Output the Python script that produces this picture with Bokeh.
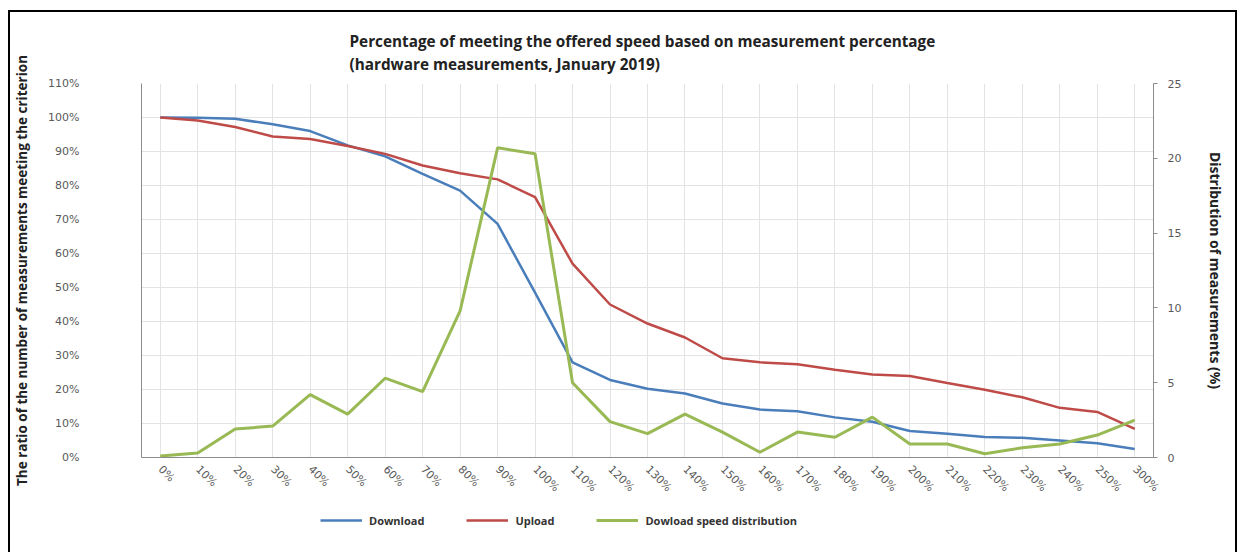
import math

from bokeh.plotting import figure
from bokeh.layouts import column
from bokeh.models import (FactorRange, Range1d, LinearAxis, FixedTicker,
                          PrintfTickFormatter, Legend, LegendItem, Title)
from bokeh.embed import file_html
from bokeh.resources import INLINE

# Share of the offered speed reached (x categories)
categories = ["0%", "10%", "20%", "30%", "40%", "50%", "60%", "70%", "80%",
              "90%", "100%", "110%", "120%", "130%", "140%", "150%", "160%",
              "170%", "180%", "190%", "200%", "210%", "220%", "230%", "240%",
              "250%", "300%"]

# Ratio of measurements meeting the criterion (%), left axis
download = [100.0, 99.9, 99.6, 98.0, 96.0, 91.8, 88.6, 83.4, 78.5, 68.7,
            48.5, 28.0, 22.8, 20.2, 18.8, 15.9, 14.1, 13.6, 11.8, 10.5,
            7.8, 7.0, 6.0, 5.8, 5.0, 4.2, 2.5]
upload = [100.0, 99.1, 97.2, 94.4, 93.7, 91.6, 89.3, 85.9, 83.6, 81.8,
          76.6, 57.0, 45.0, 39.4, 35.3, 29.2, 28.0, 27.4, 25.8, 24.4,
          24.0, 21.9, 19.9, 17.7, 14.6, 13.4, 8.4]

# Download speed distribution (% of measurements), right axis
distribution = [0.1, 0.3, 1.9, 2.1, 4.2, 2.9, 5.3, 4.4, 9.8, 20.7,
                20.3, 5.0, 2.4, 1.6, 2.9, 1.7, 0.35, 1.7, 1.35, 2.7,
                0.9, 0.9, 0.25, 0.65, 0.9, 1.5, 2.5]

ratio_ticks = [0, 10, 20, 30, 40, 50, 60, 70, 80, 90, 100, 110]
dist_ticks = [0, 5, 10, 15, 20, 25]

series_names = ["Download", "Upload", "Dowload speed distribution"]

BLUE = "#4a7ebb"
RED = "#be4b48"
GREEN = "#98b954"
TICK_GRAY = "#595959"
AXIS_GRAY = "#8c8c8c"
GRID_GRAY = "#e3e3e3"
LABEL_FONT = "DejaVu Sans"
TEXT_FONT = "Open Sans"

p = figure(
    width=1225, height=500,
    x_range=FactorRange(*categories, range_padding=0),
    y_range=Range1d(0, 110),
    output_backend="svg", toolbar_location=None,
    min_border_left=123, min_border_right=82,
    min_border_top=71, min_border_bottom=55,
    background_fill_color="white", border_fill_color="white",
)
p.outline_line_color = None
p.extra_y_ranges = {"dist": Range1d(0, 25)}

# Two-line title, left-aligned over the plot
p.title = Title(
    text="Percentage of meeting the offered speed based on measurement percentage\n"
         "(hardware measurements, January 2019)",
    align="left", offset=208, text_font=TEXT_FONT, text_font_size="15.3px",
    text_font_style="bold", text_color="#222222", text_line_height=1.14,
    standoff=19,
)

# Grid
p.xgrid.grid_line_color = GRID_GRAY
p.ygrid.grid_line_color = GRID_GRAY
p.ygrid.ticker = FixedTicker(ticks=ratio_ticks)

# Left axis
yl = p.yaxis[0]
yl.ticker = FixedTicker(ticks=ratio_ticks)
yl.formatter = PrintfTickFormatter(format="%d%%")
yl.axis_label = "The ratio of the number of measurements meeting the criterion"
yl.axis_label_text_font = TEXT_FONT
yl.axis_label_text_font_size = "13.5px"
yl.axis_label_text_font_style = "bold"
yl.axis_label_text_color = "#222222"
yl.axis_label_standoff = 14
yl.major_label_standoff = 56
yl.major_label_text_font = LABEL_FONT
yl.major_label_text_font_size = "11px"
yl.major_label_text_color = TICK_GRAY
yl.axis_line_color = AXIS_GRAY
yl.major_tick_line_color = None
yl.minor_tick_line_color = None

# Right axis
yr = LinearAxis(y_range_name="dist", ticker=FixedTicker(ticks=dist_ticks))
yr.axis_label = "Distribution of measurements (%)"
yr.axis_label_text_font = TEXT_FONT
yr.axis_label_text_font_size = "14px"
yr.axis_label_text_font_style = "bold"
yr.axis_label_text_color = "#222222"
yr.axis_label_standoff = 22
yr.major_label_standoff = 10
yr.major_label_text_font = LABEL_FONT
yr.major_label_text_font_size = "11px"
yr.major_label_text_color = TICK_GRAY
yr.axis_line_color = AXIS_GRAY
yr.major_tick_line_color = AXIS_GRAY
yr.major_tick_out = 4
yr.major_tick_in = 0
yr.minor_tick_line_color = None
p.add_layout(yr, "right")

# Bottom axis
xa = p.xaxis[0]
xa.major_label_orientation = -math.pi / 4
xa.major_label_text_font = LABEL_FONT
xa.major_label_text_font_size = "11px"
xa.major_label_text_color = TICK_GRAY
xa.major_label_standoff = 4
xa.axis_line_color = AXIS_GRAY
xa.major_tick_line_color = None

# Series
p.line(categories, download, line_color=BLUE, line_width=2.5)
p.line(categories, upload, line_color=RED, line_width=2.5)
p.line(categories, distribution, line_color=GREEN, line_width=3,
       y_range_name="dist")

# Legend strip beneath the chart: the same series, drawn far outside the
# strip's visible y-range so only their legend keys show
leg = figure(width=1225, height=40,
             x_range=FactorRange(*categories, range_padding=0),
             y_range=Range1d(1000, 1001),
             x_axis_location=None, y_axis_location=None,
             output_backend="svg", toolbar_location=None, min_border=0)
leg.grid.visible = False
leg.outline_line_color = None
keys = [
    leg.line(categories, download, line_color=BLUE, line_width=2.5),
    leg.line(categories, upload, line_color=RED, line_width=2.5),
    leg.line(categories, distribution, line_color=GREEN, line_width=3),
]
legend = Legend(
    items=[LegendItem(label=name, renderers=[r]) for name, r in zip(series_names, keys)],
    orientation="horizontal", location=(179, 22),
    border_line_color=None, background_fill_alpha=0,
    label_text_font=TEXT_FONT, label_text_font_size="11px",
    label_text_font_style="bold", label_text_color="#333333",
    glyph_width=42, label_standoff=7, spacing=42, padding=0, margin=0,
)
leg.add_layout(legend, "center")

page = column(p, leg, spacing=0,
              styles={"margin-left": "8px", "margin-top": "10px",
                      "border-left": "2px solid #000", "border-top": "2px solid #000",
                      "border-right": "2px solid #000"})

open("out.html", "w").write(file_html(page, INLINE))
